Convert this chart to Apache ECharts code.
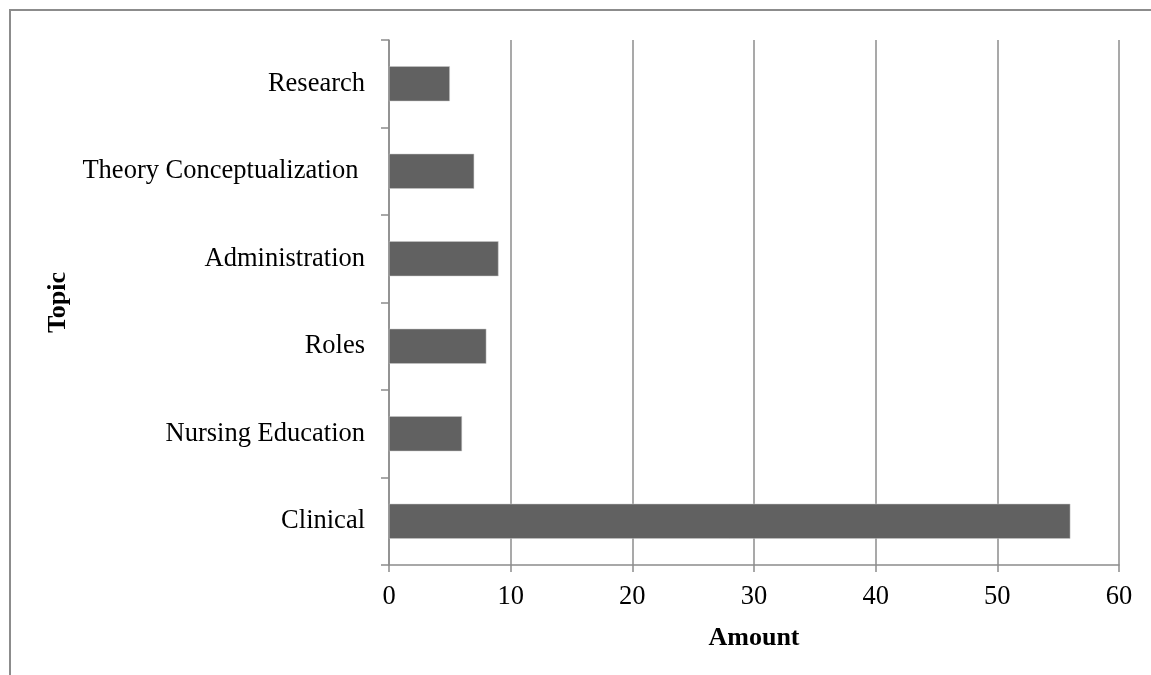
<!DOCTYPE html>
<html>
<head>
<meta charset="utf-8">
<script src="https://cdn.jsdelivr.net/npm/echarts@6/dist/echarts.min.js"></script>
<style>
html,body{margin:0;padding:0;background:#fff;}
#chart{width:1151px;height:675px;}
</style>
</head>
<body>
<div id="chart"></div>
<script>
var categories = ['Clinical', 'Nursing Education', 'Roles', 'Administration', 'Theory Conceptualization ', 'Research'];
var amounts = [56, 6, 8, 9, 7, 5];
var xTicks = { min: 0, max: 60, interval: 10 };
var xTitle = 'Amount';
var yTitle = 'Topic';

var chart = echarts.init(document.getElementById('chart'), null, { renderer: 'canvas' });
var font = 'Liberation Serif, Times New Roman, serif';
var gray = '#8c8c8c';
chart.setOption({
  animation: false,
  backgroundColor: '#fff',
  textStyle: { fontFamily: font },
  graphic: [{
    type: 'polyline',
    shape: { points: [[10, 680], [10, 10], [1160, 10]] },
    style: { stroke: gray, lineWidth: 2, fill: null },
    silent: true
  }],
  grid: { left: 389, right: 32, top: 40, bottom: 110, containLabel: false },
  xAxis: {
    type: 'value',
    min: xTicks.min, max: xTicks.max, interval: xTicks.interval,
    name: xTitle,
    nameLocation: 'middle',
    nameGap: 60,
    nameTextStyle: { fontFamily: font, fontSize: 26, fontWeight: 'bold', color: '#000' },
    axisLine: { show: true, lineStyle: { color: gray, width: 1.5 } },
    axisTick: { show: true, length: 7, lineStyle: { color: gray, width: 1.5 } },
    axisLabel: { fontFamily: font, fontSize: 26.5, color: '#000', margin: 19 },
    splitLine: { show: true, lineStyle: { color: gray, width: 1.5 } }
  },
  yAxis: {
    type: 'category',
    data: categories,
    name: yTitle,
    nameLocation: 'middle',
    nameGap: 310,
    nameRotate: 90,
    nameTextStyle: { fontFamily: font, fontSize: 26, fontWeight: 'bold', color: '#000' },
    axisLine: { show: true, lineStyle: { color: gray, width: 1.5 } },
    axisTick: { show: true, length: 8, lineStyle: { color: gray, width: 1.5 } },
    axisLabel: { fontFamily: font, fontSize: 26.5, color: '#000', margin: 24 },
    splitLine: { show: false }
  },
  series: [{
    type: 'bar',
    data: amounts,
    barCategoryGap: '60%',
    itemStyle: { color: '#616161', borderColor: '#c8c8c8', borderWidth: 0.5 }
  }]
});
</script>
</body>
</html>
